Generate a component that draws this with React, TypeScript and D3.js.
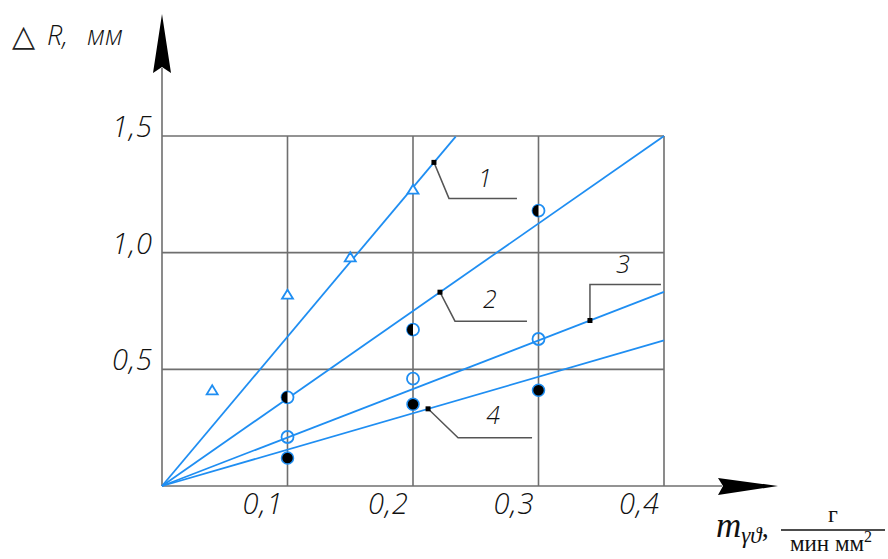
import React from "react";
import * as d3 from "d3";

const xTicks = [0.1, 0.2, 0.3, 0.4];
const xTickLabels = ["0,1", "0,2", "0,3", "0,4"];
const yTicks = [0.5, 1.0, 1.5];
const yTickLabels = ["0,5", "1,0", "1,5"];

// Fitted lines (through origin): slope and end x
const lineNames = ["1", "2", "3", "4"];
const lineSlopes = [6.4, 3.75, 2.08, 1.56];
const lineEndX = [0.234, 0.4, 0.4, 0.4];
// leader dot position (x in data units on each line)
const leaderX = [0.2167, 0.2215, 0.341, 0.212];

// Series 1: open triangles
const s1x = [0.04, 0.1, 0.15, 0.2];
const s1y = [0.41, 0.82, 0.98, 1.27];
// Series 2: half-filled circles
const s2x = [0.1, 0.2, 0.3];
const s2y = [0.38, 0.67, 1.18];
// Series 3: open circles
const s3x = [0.1, 0.2, 0.3];
const s3y = [0.21, 0.46, 0.63];
// Series 4: filled circles
const s4x = [0.1, 0.2, 0.3];
const s4y = [0.12, 0.35, 0.41];

const BLUE = "#1f8ef2";
const GRID = "#6f6f6f";
const LEAD = "#555";
const FONT = "'Open Sans', 'DejaVu Sans', sans-serif";
const SERIF = "'Liberation Serif', 'DejaVu Serif', serif";

export default function App() {
  const x = d3.scaleLinear().domain([0, 0.4]).range([162, 664]);
  const y = d3.scaleLinear().domain([0, 1.5]).range([486, 136]);
  const line = d3.line<[number, number]>().x((d) => x(d[0])).y((d) => y(d[1]));

  // leader offsets (px) relative to dot: elbow, end, text
  const leaders = [
    { elbow: [15, 36], end: [83, 36], text: [51, 25] },
    { elbow: [15, 29], end: [87, 29], text: [50, 16] },
    { elbow: [0, -36], end: [71, -36], text: [33, -48] },
    { elbow: [30, 29], end: [104, 29], text: [65, 15] },
  ];

  const r = 6;
  return (
    <svg width={888} height={559} style={{ position: "absolute", left: 0, top: 0, background: "#fff" }}>
      <rect width={888} height={559} fill="#fff" />
      {/* grid */}
      {xTicks.map((t) => (
        <line key={"vx" + t} x1={x(t)} x2={x(t)} y1={y(0)} y2={y(1.5)} stroke={GRID} strokeWidth={1.6} />
      ))}
      {yTicks.map((t) => (
        <line key={"hy" + t} x1={x(0)} x2={x(0.4)} y1={y(t)} y2={y(t)} stroke={GRID} strokeWidth={1.6} />
      ))}
      {/* axes */}
      <line x1={x(0)} x2={722} y1={y(0)} y2={y(0)} stroke={GRID} strokeWidth={1.6} />
      <line x1={x(0)} x2={x(0)} y1={y(0)} y2={68} stroke={GRID} strokeWidth={1.6} />
      <path d={`M718,478 L778,486 L718,495 L723,486 Z`} fill="#000" />
      <path d={`M${x(0)},14 L${x(0) + 9},73 L${x(0)},67 L${x(0) - 9},73 Z`} fill="#000" />

      {/* tick labels */}
      {xTicks.map((t, i) => (
        <text key={"xl" + t} x={x(t) - 4} y={514} textAnchor="end" fontFamily={FONT} fontStyle="italic"
          fontSize={29} fontWeight={300} fill="#111" letterSpacing={1}>{xTickLabels[i]}</text>
      ))}
      {yTicks.map((t, i) => (
        <text key={"yl" + t} x={153} y={y(t) + 1} textAnchor="end" fontFamily={FONT} fontStyle="italic"
          fontSize={29} fontWeight={300} fill="#111" letterSpacing={1}>{yTickLabels[i]}</text>
      ))}

      {/* fitted lines */}
      {lineSlopes.map((s, i) => (
        <path key={"fl" + i} d={line([[0, 0], [lineEndX[i], s * lineEndX[i]]]) || ""} stroke={BLUE}
          strokeWidth={1.8} fill="none" />
      ))}

      {/* leaders */}
      {lineSlopes.map((s, i) => {
        const px = x(leaderX[i]);
        const py = y(s * leaderX[i]);
        const L = leaders[i];
        return (
          <g key={"ld" + i}>
            <polyline points={`${px},${py} ${px + L.elbow[0]},${py + L.elbow[1]} ${px + L.end[0]},${py + L.end[1]}`}
              fill="none" stroke={LEAD} strokeWidth={1.5} />
            <rect x={px - 2.5} y={py - 2.5} width={5} height={5} fill="#000" />
            <text x={px + L.text[0]} y={py + L.text[1]} textAnchor="middle" fontFamily={FONT}
              fontStyle="italic" fontSize={25} fontWeight={300} fill="#111">{lineNames[i]}</text>
          </g>
        );
      })}

      {/* series 1 triangles */}
      {s1x.map((v, i) => {
        const cx = x(v), cy = y(s1y[i]);
        return (
          <path key={"t" + i} d={`M${cx},${cy - 5} L${cx + 5.5},${cy + 4} L${cx - 5.5},${cy + 4} Z`}
            fill="#fff" stroke={BLUE} strokeWidth={1.8} />
        );
      })}
      {/* series 2 half-filled */}
      {s2x.map((v, i) => {
        const cx = x(v), cy = y(s2y[i]);
        return (
          <g key={"h" + i}>
            <circle cx={cx} cy={cy} r={r} fill="#fff" stroke={BLUE} strokeWidth={1.8} />
            <path d={`M${cx},${cy - r} A${r},${r} 0 0 0 ${cx},${cy + r} Z`} fill="#000" />
          </g>
        );
      })}
      {/* series 3 open circles */}
      {s3x.map((v, i) => (
        <circle key={"o" + i} cx={x(v)} cy={y(s3y[i])} r={r} fill="none" stroke={BLUE} strokeWidth={1.8} />
      ))}
      {/* series 4 filled */}
      {s4x.map((v, i) => (
        <circle key={"f" + i} cx={x(v)} cy={y(s4y[i])} r={r} fill="#000" stroke={BLUE} strokeWidth={1.5} />
      ))}

      {/* axis titles */}
      <text x={12} y={46} fontFamily="'DejaVu Sans', sans-serif" fontSize={30} fontWeight={300} fill="#222">△</text>
      <text x={47} y={45} fontFamily={FONT} fontStyle="italic" fontSize={27} fontWeight={300} fill="#111">R,</text>
      <text x={87} y={45} fontFamily={FONT} fontStyle="italic" fontSize={27} fontWeight={300} fill="#111">мм</text>

      <text x={716} y={537} fontFamily={SERIF} fontStyle="italic" fontSize={35} fill="#111">
        m
        <tspan fontSize={23} dy={6}>γϑ</tspan>
        <tspan fontSize={28} dy={-6} fontStyle="normal">,</tspan>
      </text>
      <line x1={781} x2={885} y1={530} y2={530} stroke="#111" strokeWidth={1.5} />
      <text x={833} y={522} textAnchor="middle" fontFamily={SERIF} fontSize={24} fill="#111">г</text>
      <text x={831} y={551} textAnchor="middle" fontFamily={SERIF} fontSize={23} fill="#111">
        мин мм<tspan fontSize={16} dy={-9}>2</tspan>
      </text>
    </svg>
  );
}
